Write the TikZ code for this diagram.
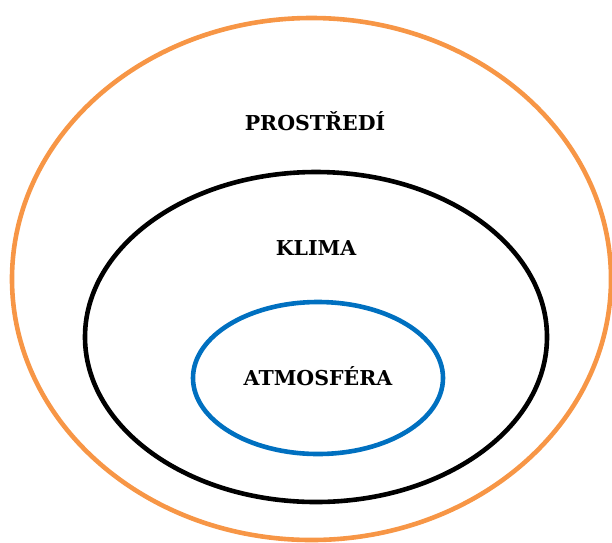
\documentclass[tikz,border=0pt]{standalone}
\usepackage{fontspec}
\setmainfont{DejaVu Serif}
\definecolor{envorange}{HTML}{F79646}
\definecolor{atmoblue}{HTML}{0070C0}
\begin{document}
\begin{tikzpicture}[x=1pt,y=-1pt,
  ring/.style={line width=4.6pt},
  label/.style={font=\fontsize{20.5}{23}\selectfont\bfseries, inner sep=0pt}]
  \useasboundingbox (0,0) rectangle (612,542);
  \begin{scope}
    \clip (0,0) rectangle (612,542);
    % nested circles: environment, climate, atmosphere
    \draw[ring, envorange] (311.5,279) ellipse [x radius=299.5, y radius=261];
    \draw[ring, black] (316,337) ellipse [x radius=231, y radius=165];
    \draw[ring, atmoblue] (318,378) ellipse [x radius=125, y radius=76];
  \end{scope}
  \node[label] (env) at (315,121) {PROSTŘEDÍ};
  \node[label] (clim) at (316,248) {KLIMA};
  \node[label] (atmo) at (318,376) {ATMOSFÉRA};
\end{tikzpicture}
\end{document}
